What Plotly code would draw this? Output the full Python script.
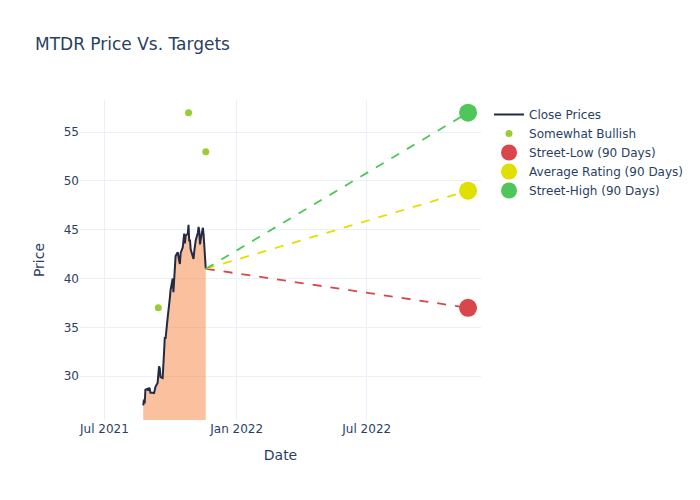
import pandas as pd
import plotly.graph_objects as go

# Close price data (business days)
close_dates = pd.bdate_range("2021-08-24", "2021-11-19", freq="C",
                             holidays=["2021-09-06"])
close_prices = [
    27.0, 27.6, 27.2, 28.6, 28.7, 28.5, 28.8, 28.7, 28.3,
    28.3, 28.2, 28.5, 28.9, 29.3, 30.0, 31.0, 30.8, 29.9, 29.8,
    30.8, 32.5, 34.0, 33.8, 36.0, 36.5, 37.2, 38.0, 38.8, 40.0,
    38.6, 40.2, 41.5, 42.3, 42.7, 42.0, 41.8, 41.5, 42.6, 43.2,
    43.8, 44.6, 43.6, 44.4, 44.6, 45.5, 43.8, 44.0, 43.0, 42.2,
    42.0, 42.8, 43.6, 43.9, 44.7, 45.3, 44.8, 43.5, 44.0, 45.2,
    44.5, 42.8, 41.6, 41.0,
]

# Analyst ratings
bullish_dates = ["2021-09-14", "2021-10-26", "2021-11-19"]
bullish_prices = [37, 57, 53]

# Targets (90 days)
target_date = "2022-11-19"
target_names = ["Street-Low (90 Days)", "Average Rating (90 Days)", "Street-High (90 Days)"]
target_values = [37, 49, 57]
target_colors = ["#D9474C", "#E0E000", "#4FC65A"]

n = min(len(close_dates), len(close_prices))
close_dates = list(close_dates[:n])
close_prices = close_prices[:n]

fig = go.Figure()
fig.add_trace(go.Scatter(
    x=close_dates, y=close_prices, mode="none", showlegend=False,
    fill="tozeroy", fillcolor="rgba(248,130,60,0.5)", hoverinfo="skip",
))
fig.add_trace(go.Scatter(
    x=close_dates, y=close_prices, mode="lines", name="Close Prices",
    line=dict(color="#232A44", width=2),
))
fig.add_trace(go.Scatter(
    x=bullish_dates, y=bullish_prices, mode="markers", name="Somewhat Bullish",
    marker=dict(color="#9ACD32", size=7),
))

last_date = close_dates[-1]
last_price = close_prices[-1]
for name, val, col in zip(target_names, target_values, target_colors):
    fig.add_trace(go.Scatter(
        x=[last_date, target_date], y=[last_price, val], mode="lines",
        line=dict(color=col, width=1.8, dash="dash"), showlegend=False,
        hoverinfo="skip",
    ))
for name, val, col in zip(target_names, target_values, target_colors):
    fig.add_trace(go.Scatter(
        x=[target_date], y=[val], mode="markers", name=name,
        marker=dict(color=col, size=18),
    ))

fig.update_layout(
    template="plotly_white",
    width=692, height=492,
    margin=dict(l=72, t=92, b=80),
    font=dict(family="DejaVu Sans"),
    title=dict(text="MTDR Price Vs. Targets", x=27 / 692, xanchor="left",
               y=1 - 36 / 492, yanchor="middle"),
    xaxis=dict(title="Date", range=["2021-05-28", "2022-12-07"],
               dtick="M6", tick0="2021-07-01", tickformat="%b %Y"),
    yaxis=dict(title="Price", range=[25.5, 58.3]),
)

fig.write_html("out.html")
